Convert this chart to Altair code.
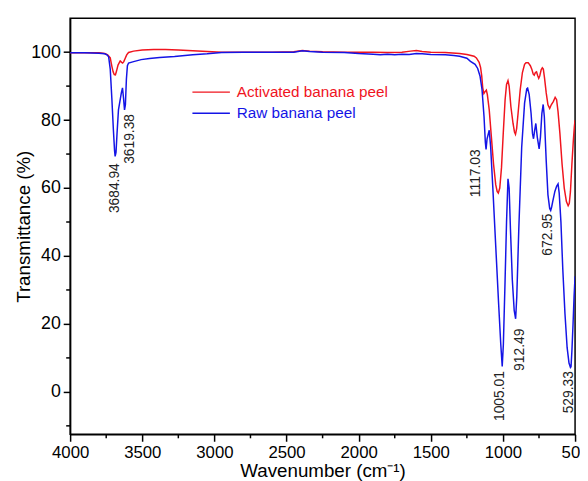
import altair as alt
import pandas as pd

# ---- Raw banana peel (blue) ----
wn_raw = [4000, 3900, 3800, 3760, 3745, 3733, 3722, 3711, 3700, 3692,
          3688, 3682, 3675, 3665, 3655, 3645, 3637, 3630, 3623, 3617,
          3610, 3603, 3595, 3560, 3508, 3450, 3380, 3276, 3150, 3050,
          2950, 2800, 2600, 2450, 2390, 2340, 2250, 2100, 2000, 1900,
          1850, 1800, 1750, 1700, 1650, 1600, 1560, 1500, 1400, 1340,
          1300, 1250, 1225, 1193, 1175, 1159, 1145, 1131, 1122, 1117,
          1110, 1095, 1085, 1070, 1050, 1030, 1015, 1005, 997, 985,
          975, 965, 957, 948, 935, 922, 912, 904, 890, 870,
          850, 835, 829, 818, 805, 795, 788, 780, 772, 762,
          749, 740, 730, 721, 713, 700, 688, 676, 669, 662,
          655, 640, 628, 618, 610, 598, 585, 570, 555, 542,
          532, 528, 522, 514, 507, 500]
t_raw = [99.8, 99.8, 99.7, 99.5, 99.2, 98.6, 95.0, 86.5, 77.0, 71.0,
         69.3, 70.5, 76.0, 83.0, 85.5, 88.0, 89.5, 86.5, 83.0, 84.5,
         92.0, 96.0, 96.8, 97.2, 97.8, 98.1, 98.4, 98.7, 99.2, 99.5,
         99.9, 100.0, 100.0, 100.0, 100.4, 100.2, 100.0, 99.9, 99.6, 99.4,
         99.2, 99.4, 99.2, 99.4, 99.3, 99.6, 99.5, 99.3, 99.2, 99.0,
         98.8, 98.2, 97.3, 96.4, 95.2, 93.0, 89.0, 81.0, 73.5, 71.4,
         74.5, 77.0, 72.0, 60.0, 43.0, 26.0, 14.0, 7.5, 14.0, 33.0,
         50.0, 62.7, 60.0, 48.0, 33.0, 24.0, 21.5, 28.0, 48.0, 72.0,
         85.0, 89.2, 89.4, 87.5, 82.0, 76.0, 74.5, 77.0, 79.0, 75.0,
         71.5, 75.0, 82.0, 84.6, 81.0, 68.0, 58.0, 54.0, 53.4, 54.5,
         56.0, 59.0, 60.5, 61.2, 58.5, 50.0, 36.0, 23.0, 13.0, 8.5,
         7.2, 7.4, 12.0, 20.0, 28.0, 34.0]

# ---- Activated banana peel (red) ----
wn_act = [4000, 3900, 3800, 3760, 3740, 3722, 3711, 3702, 3694, 3686,
          3678, 3668, 3653, 3643, 3636, 3628, 3618, 3608, 3595, 3560,
          3500, 3420, 3340, 3250, 3150, 3050, 2950, 2800, 2600, 2450,
          2390, 2340, 2250, 2100, 2000, 1900, 1800, 1700, 1640, 1600,
          1560, 1500, 1400, 1300, 1250, 1200, 1184, 1165, 1155, 1147,
          1140, 1132, 1125, 1115, 1108, 1095, 1080, 1065, 1050, 1040,
          1032, 1022, 1010, 998, 985, 975, 965, 957, 945, 930,
          920, 913, 905, 895, 880, 865, 850, 840, 825, 810,
          800, 790, 783, 775, 767, 760, 752, 745, 735, 727,
          720, 712, 700, 688, 676, 665, 650, 638, 628, 618,
          605, 590, 575, 560, 548, 540, 532, 522, 512, 505,
          500]
t_act = [99.8, 99.8, 99.8, 99.6, 99.2, 98.3, 95.9, 94.2, 93.4, 93.3,
         94.5, 96.2, 97.4, 97.0, 96.8, 97.2, 98.2, 99.2, 99.9, 100.3,
         100.6, 100.8, 100.8, 100.6, 100.4, 100.2, 100.0, 100.0, 100.0, 100.1,
         100.5, 100.3, 100.1, 100.0, 100.0, 100.0, 99.9, 100.0, 100.3, 100.5,
         100.2, 100.0, 99.9, 99.6, 99.3, 98.8, 98.3, 97.0, 95.5, 93.0,
         89.5, 87.8, 88.3, 88.8, 87.5, 83.0, 75.0, 67.0, 61.0, 59.0,
         58.5, 60.0, 66.0, 76.0, 86.0, 90.5, 91.6, 90.0, 84.0, 79.0,
         76.5, 75.8, 77.5, 82.0, 89.0, 94.0, 96.4, 96.9, 96.9, 96.0,
         95.0, 93.5, 93.2, 94.0, 94.2, 93.2, 92.3, 93.0, 94.8, 95.4,
         95.0, 92.5, 88.0, 84.5, 83.4, 84.5, 85.5, 86.7, 86.0, 82.5,
         76.0, 67.0, 60.0, 56.0, 54.8, 55.5, 59.0, 67.0, 74.0, 78.0,
         80.0]

assert len(wn_raw) == len(t_raw)
assert len(wn_act) == len(t_act)

# ---- Peak annotations ----
peak_labels = ["3684.94", "3619.38", "1117.03", "1005.01", "912.49", "672.95", "529.33"]
peak_x = [3692, 3585, 1184, 1022, 878, 685, 543]
peak_y = [67.3, 81.8, 71.4, 6.1, 18.6, 52.5, 6.1]

# ---- Axis ticks ----
x_major = [4000, 3500, 3000, 2500, 2000, 1500, 1000, 500]
x_minor = [3750, 3250, 2750, 2250, 1750, 1250, 750]
y_major = [0, 20, 40, 60, 80, 100]
y_minor = [-10, 10, 30, 50, 70, 90]

FONT = "Liberation Sans"
RED = "#f0141e"
BLUE = "#1414e6"

raw_df = pd.DataFrame({"wn": wn_raw, "t": t_raw})
act_df = pd.DataFrame({"wn": wn_act, "t": t_act})
lab_df = pd.DataFrame({"wn": peak_x, "t": peak_y, "label": peak_labels})
xminor_df = pd.DataFrame({"wn": x_minor})
yminor_df = pd.DataFrame({"t": y_minor})

x_scale = alt.Scale(domain=[500, 4000], reverse=True, nice=False, zero=False)
y_scale = alt.Scale(domain=[-12.5, 110], nice=False, zero=False)

x_enc = alt.X(
    "wn:Q",
    scale=x_scale,
    axis=alt.Axis(
        values=x_major,
        format="d",
        tickSize=7,
        labelFlush=False,
        labelOverlap=False,
        grid=False,
        title="Wavenumber (cm⁻¹)",
        labelFontSize=17,
        titleFontSize=19,
        titleFontWeight="normal",
        labelColor="black",
        titleColor="black",
        domainColor="black",
        tickColor="black",
        domainWidth=1.5,
        tickWidth=1.5,
        labelPadding=3,
        titlePadding=2,
    ),
)
y_enc = alt.Y(
    "t:Q",
    scale=y_scale,
    axis=alt.Axis(
        values=y_major,
        tickSize=7,
        labelOverlap=False,
        grid=False,
        title="Transmittance (%)",
        labelFontSize=18,
        titleFontSize=19,
        titleFontWeight="normal",
        labelColor="black",
        titleColor="black",
        domainColor="black",
        tickColor="black",
        domainWidth=1.5,
        tickWidth=1.5,
        labelPadding=3,
        titlePadding=-3,
    ),
)

act_line = alt.Chart(act_df).mark_line(color=RED, strokeWidth=1.5, clip=True).encode(
    x=x_enc, y=y_enc, order="wn:Q")
raw_line = alt.Chart(raw_df).mark_line(color=BLUE, strokeWidth=1.5, clip=True).encode(
    x=x_enc, y=y_enc, order="wn:Q")

labels = alt.Chart(lab_df).mark_text(
    angle=270, align="right", baseline="middle", fontSize=14, font=FONT, color="#222222"
).encode(x=alt.X("wn:Q", scale=x_scale), y=alt.Y("t:Q", scale=y_scale), text="label:N")

# minor ticks
x_minor_ticks = alt.Chart(xminor_df).mark_rule(color="black", strokeWidth=1.5).encode(
    x=alt.X("wn:Q", scale=x_scale), y=alt.value(422), y2=alt.value(426))
y_minor_ticks = alt.Chart(yminor_df).mark_rule(color="black", strokeWidth=1.5).encode(
    y=alt.Y("t:Q", scale=y_scale), x=alt.value(-4), x2=alt.value(0))

# manual legend
leg_red = alt.Chart(act_df.head(1)).mark_rule(color=RED, strokeWidth=1.5).encode(
    x=alt.value(124), x2=alt.value(162), y=alt.value(75))
leg_blue = alt.Chart(raw_df.head(1)).mark_rule(color=BLUE, strokeWidth=1.5).encode(
    x=alt.value(124), x2=alt.value(162), y=alt.value(96.5))
leg_red_t = alt.Chart(act_df.head(1)).mark_text(
    align="left", baseline="middle", fontSize=15.5, font=FONT, color=RED
).encode(x=alt.value(169), y=alt.value(75), text=alt.value("Activated banana peel"))
leg_blue_t = alt.Chart(raw_df.head(1)).mark_text(
    align="left", baseline="middle", fontSize=15.5, font=FONT, color=BLUE
).encode(x=alt.value(169), y=alt.value(96.5), text=alt.value("Raw banana peel"))

chart = alt.layer(
    act_line, raw_line, labels, x_minor_ticks, y_minor_ticks,
    leg_red, leg_blue, leg_red_t, leg_blue_t
).properties(
    width=512,
    height=422,
    autosize=alt.AutoSizeParams(type="none"),
    padding={"left": 63, "top": 7, "right": 5, "bottom": 44},
).configure(font=FONT, background="white").configure_view(
    stroke="black", strokeWidth=1.5
)

chart.save("out.html", embed_options={"renderer": "svg", "actions": False})
